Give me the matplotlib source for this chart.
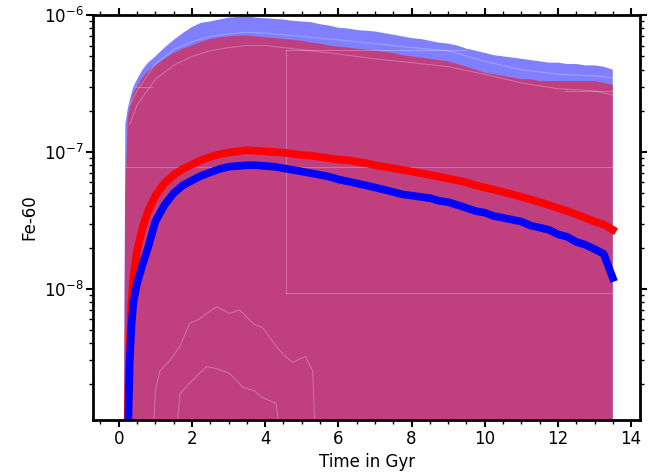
import numpy as np
import matplotlib
matplotlib.use("Agg")
import matplotlib.pyplot as plt
from matplotlib.ticker import LogLocator, NullFormatter

# time grid (Gyr)
t = [0.12, 0.18, 0.25, 0.3, 0.35, 0.4, 0.5, 0.65, 0.8,
     1.0, 1.25, 1.5, 1.75, 2.0, 2.25, 2.5, 2.75, 3.0, 3.25, 3.5, 3.75,
     4.0, 4.25, 4.5, 4.75, 5.0, 5.25, 5.5, 5.75, 6.0, 6.25, 6.5, 6.75,
     7.0, 7.25, 7.5, 7.75, 8.0, 8.25, 8.5, 8.75, 9.0, 9.25, 9.5, 9.75,
     10.0, 10.25, 10.5, 10.75, 11.0, 11.25, 11.5, 11.75, 12.0, 12.25,
     12.5, 12.75, 13.0, 13.25, 13.5]

# median Fe-60, units of 1e-8
red_med = [0.01, 0.02, 0.12, 0.4, 0.8, 1.2, 1.9, 2.8, 3.7,
           4.8, 5.9, 6.8, 7.5, 8.1, 8.7, 9.2, 9.6, 9.9, 10.1, 10.3, 10.2,
           10.1, 10.0, 9.9, 9.7, 9.5, 9.4, 9.2, 9.0, 8.8, 8.7, 8.5, 8.3,
           8.0, 7.8, 7.6, 7.4, 7.2, 7.0, 6.8, 6.6, 6.4, 6.2, 6.0, 5.7,
           5.5, 5.3, 5.1, 4.9, 4.7, 4.5, 4.3, 4.1, 3.9, 3.7,
           3.5, 3.3, 3.1, 2.95, 2.7]
blue_med = [0.01, 0.02, 0.08, 0.3, 0.55, 0.8, 1.1, 1.5, 2.0,
            3.1, 4.1, 5.0, 5.7, 6.2, 6.7, 7.1, 7.5, 7.8, 7.9, 8.0, 8.0,
            7.9, 7.8, 7.6, 7.4, 7.2, 7.0, 6.8, 6.6, 6.3, 6.1, 5.9, 5.7,
            5.5, 5.3, 5.1, 4.9, 4.8, 4.7, 4.6, 4.4, 4.3, 4.1, 3.9, 3.7,
            3.6, 3.4, 3.3, 3.2, 3.1, 2.9, 2.8, 2.7, 2.5, 2.4,
            2.2, 2.1, 1.95, 1.8, 1.2]

# upper envelopes, units of 1e-7
blue_max = [0.001, 1.6, 2.1, 2.4, 2.7, 3.0, 3.4, 4.0, 4.5,
            5.0, 5.8, 6.6, 7.4, 8.2, 8.8, 9.0, 9.3, 9.6, 9.7, 9.8, 9.6,
            9.5, 9.4, 9.3, 9.1, 9.0, 8.9, 8.6, 8.4, 8.1, 8.0, 7.8, 7.7,
            7.6, 7.4, 7.2, 7.0, 6.8, 6.7, 6.5, 6.3, 6.2, 6.0, 5.7, 5.5,
            5.3, 5.1, 5.0, 4.9, 4.8, 4.7, 4.6, 4.5, 4.5, 4.4,
            4.4, 4.3, 4.3, 4.2, 4.0]
red_max = [0.001, 0.5, 1.8, 2.1, 2.4, 2.7, 3.0, 3.5, 3.9,
           4.3, 4.8, 5.3, 5.7, 6.0, 6.4, 6.7, 6.9, 7.0, 7.1, 7.1, 7.0,
           6.9, 6.8, 6.7, 6.6, 6.5, 6.3, 6.2, 6.0, 5.9, 5.8, 5.7, 5.6,
           5.5, 5.4, 5.3, 5.1, 5.0, 4.9, 4.8, 4.7, 4.6, 4.4, 4.2, 4.0,
           3.8, 3.7, 3.6, 3.5, 3.4, 3.4, 3.3, 3.3, 3.3, 3.3,
           3.3, 3.3, 3.3, 3.2, 3.1]

# faint percentile lines
t_faint = [0.3, 0.5, 1, 1.5, 2, 2.5, 3, 3.5, 4, 5, 6, 7, 8, 9, 10, 11, 12, 13, 13.5]
faint_a = [2.2, 2.8, 4.4, 5.6, 6.4, 7.0, 7.3, 7.5, 7.4, 7.0, 6.6, 6.2, 5.8, 5.5, 4.6, 4.0, 3.7, 3.6, 3.5]
faint_b = [1.6, 2.2, 3.4, 4.3, 5.0, 5.5, 5.8, 6.0, 6.0, 5.6, 5.2, 4.8, 4.5, 4.2, 3.7, 3.2, 2.9, 2.8, 2.6]

t_low_a = [0.9, 1.0, 1.12, 1.4, 1.67, 1.94, 2.2, 2.4, 2.68, 3.03, 3.3,
           3.5, 3.7, 3.93, 4.1, 4.3, 4.5, 4.75, 5.1, 5.3, 5.4]
low_a = [0.5, 1.8, 2.5, 3.0, 3.8, 5.6, 6.0, 6.6, 7.4, 6.6, 7.0,
         6.2, 5.5, 5.2, 4.5, 3.8, 3.3, 2.9, 3.2, 2.5, 0.5]  # 1e-9
t_low_b = [1.5, 1.67, 1.9, 2.13, 2.4, 2.7, 3.03, 3.4, 3.7, 3.93, 4.3, 4.5]
low_b = [0.5, 1.7, 2.0, 2.3, 2.7, 2.6, 2.4, 1.9, 1.8, 1.6, 1.45, 0.5]  # 1e-9

# straight faint segments (t0, t1, v0, v1)
segments = [(0.2, 13.5, 7.8e-8, 7.8e-8),
            (4.56, 4.56, 9.3e-9, 5.6e-7),
            (4.56, 13.5, 9.3e-9, 9.3e-9),
            (4.56, 9.5, 5.6e-7, 5.6e-7),
            (12.2, 13.5, 2.8e-7, 2.8e-7),
            (0.45, 0.9, 3.0e-7, 3.0e-7)]

x_ticks = [0, 2, 4, 6, 8, 10, 12, 14]
y_ticks = [1e-8, 1e-7, 1e-6]

t = np.array(t)
floor = 1e-10

plt.rcParams['font.size'] = 12
fig, ax = plt.subplots(figsize=(6.56, 4.75), dpi=100)
fig.subplots_adjust(left=0.142, right=0.976, top=0.968, bottom=0.116)

ax.fill_between(t, floor, np.array(blue_max) * 1e-7, color='blue', alpha=0.5, lw=0)
ax.fill_between(t, floor, np.array(red_max) * 1e-7, color='red', alpha=0.5, lw=0)

fc = (1, 1, 1, 0.25)
ax.plot(t_faint, np.array(faint_a) * 1e-7, color=fc, lw=0.8)
ax.plot(t_faint, np.array(faint_b) * 1e-7, color=fc, lw=0.8)
ax.plot(t_low_a, np.array(low_a) * 1e-9, color=fc, lw=0.8)
ax.plot(t_low_b, np.array(low_b) * 1e-9, color=fc, lw=0.8)
for t0, t1, v0, v1 in segments:
    ax.plot([t0, t1], [v0, v1], color=fc, lw=0.8)

ax.plot(t, np.array(red_med) * 1e-8, color='red', lw=5.5)
ax.plot(t, np.array(blue_med) * 1e-8, color='blue', lw=5.5)

ax.set_yscale('log')
ax.set_ylim(1.1e-9, 1e-6)
ax.set_xlim(-0.7, 14.25)
ax.set_xticks(x_ticks)
ax.set_xticks(np.arange(-0.5, 14.3, 0.5), minor=True)
ax.set_yticks(y_ticks)
ax.yaxis.set_minor_locator(LogLocator(base=10, subs=np.arange(2, 10), numticks=12))
ax.yaxis.set_minor_formatter(NullFormatter())

for s in ax.spines.values():
    s.set_linewidth(2)
ax.tick_params(which='both', direction='out', top=True, right=True, pad=2)
ax.tick_params(which='major', length=5, width=1.5)
ax.tick_params(which='minor', length=3, width=1)

ax.set_xlabel('Time in Gyr', labelpad=4)
ax.set_ylabel('Fe-60')

fig.savefig('out.png', dpi=100)
